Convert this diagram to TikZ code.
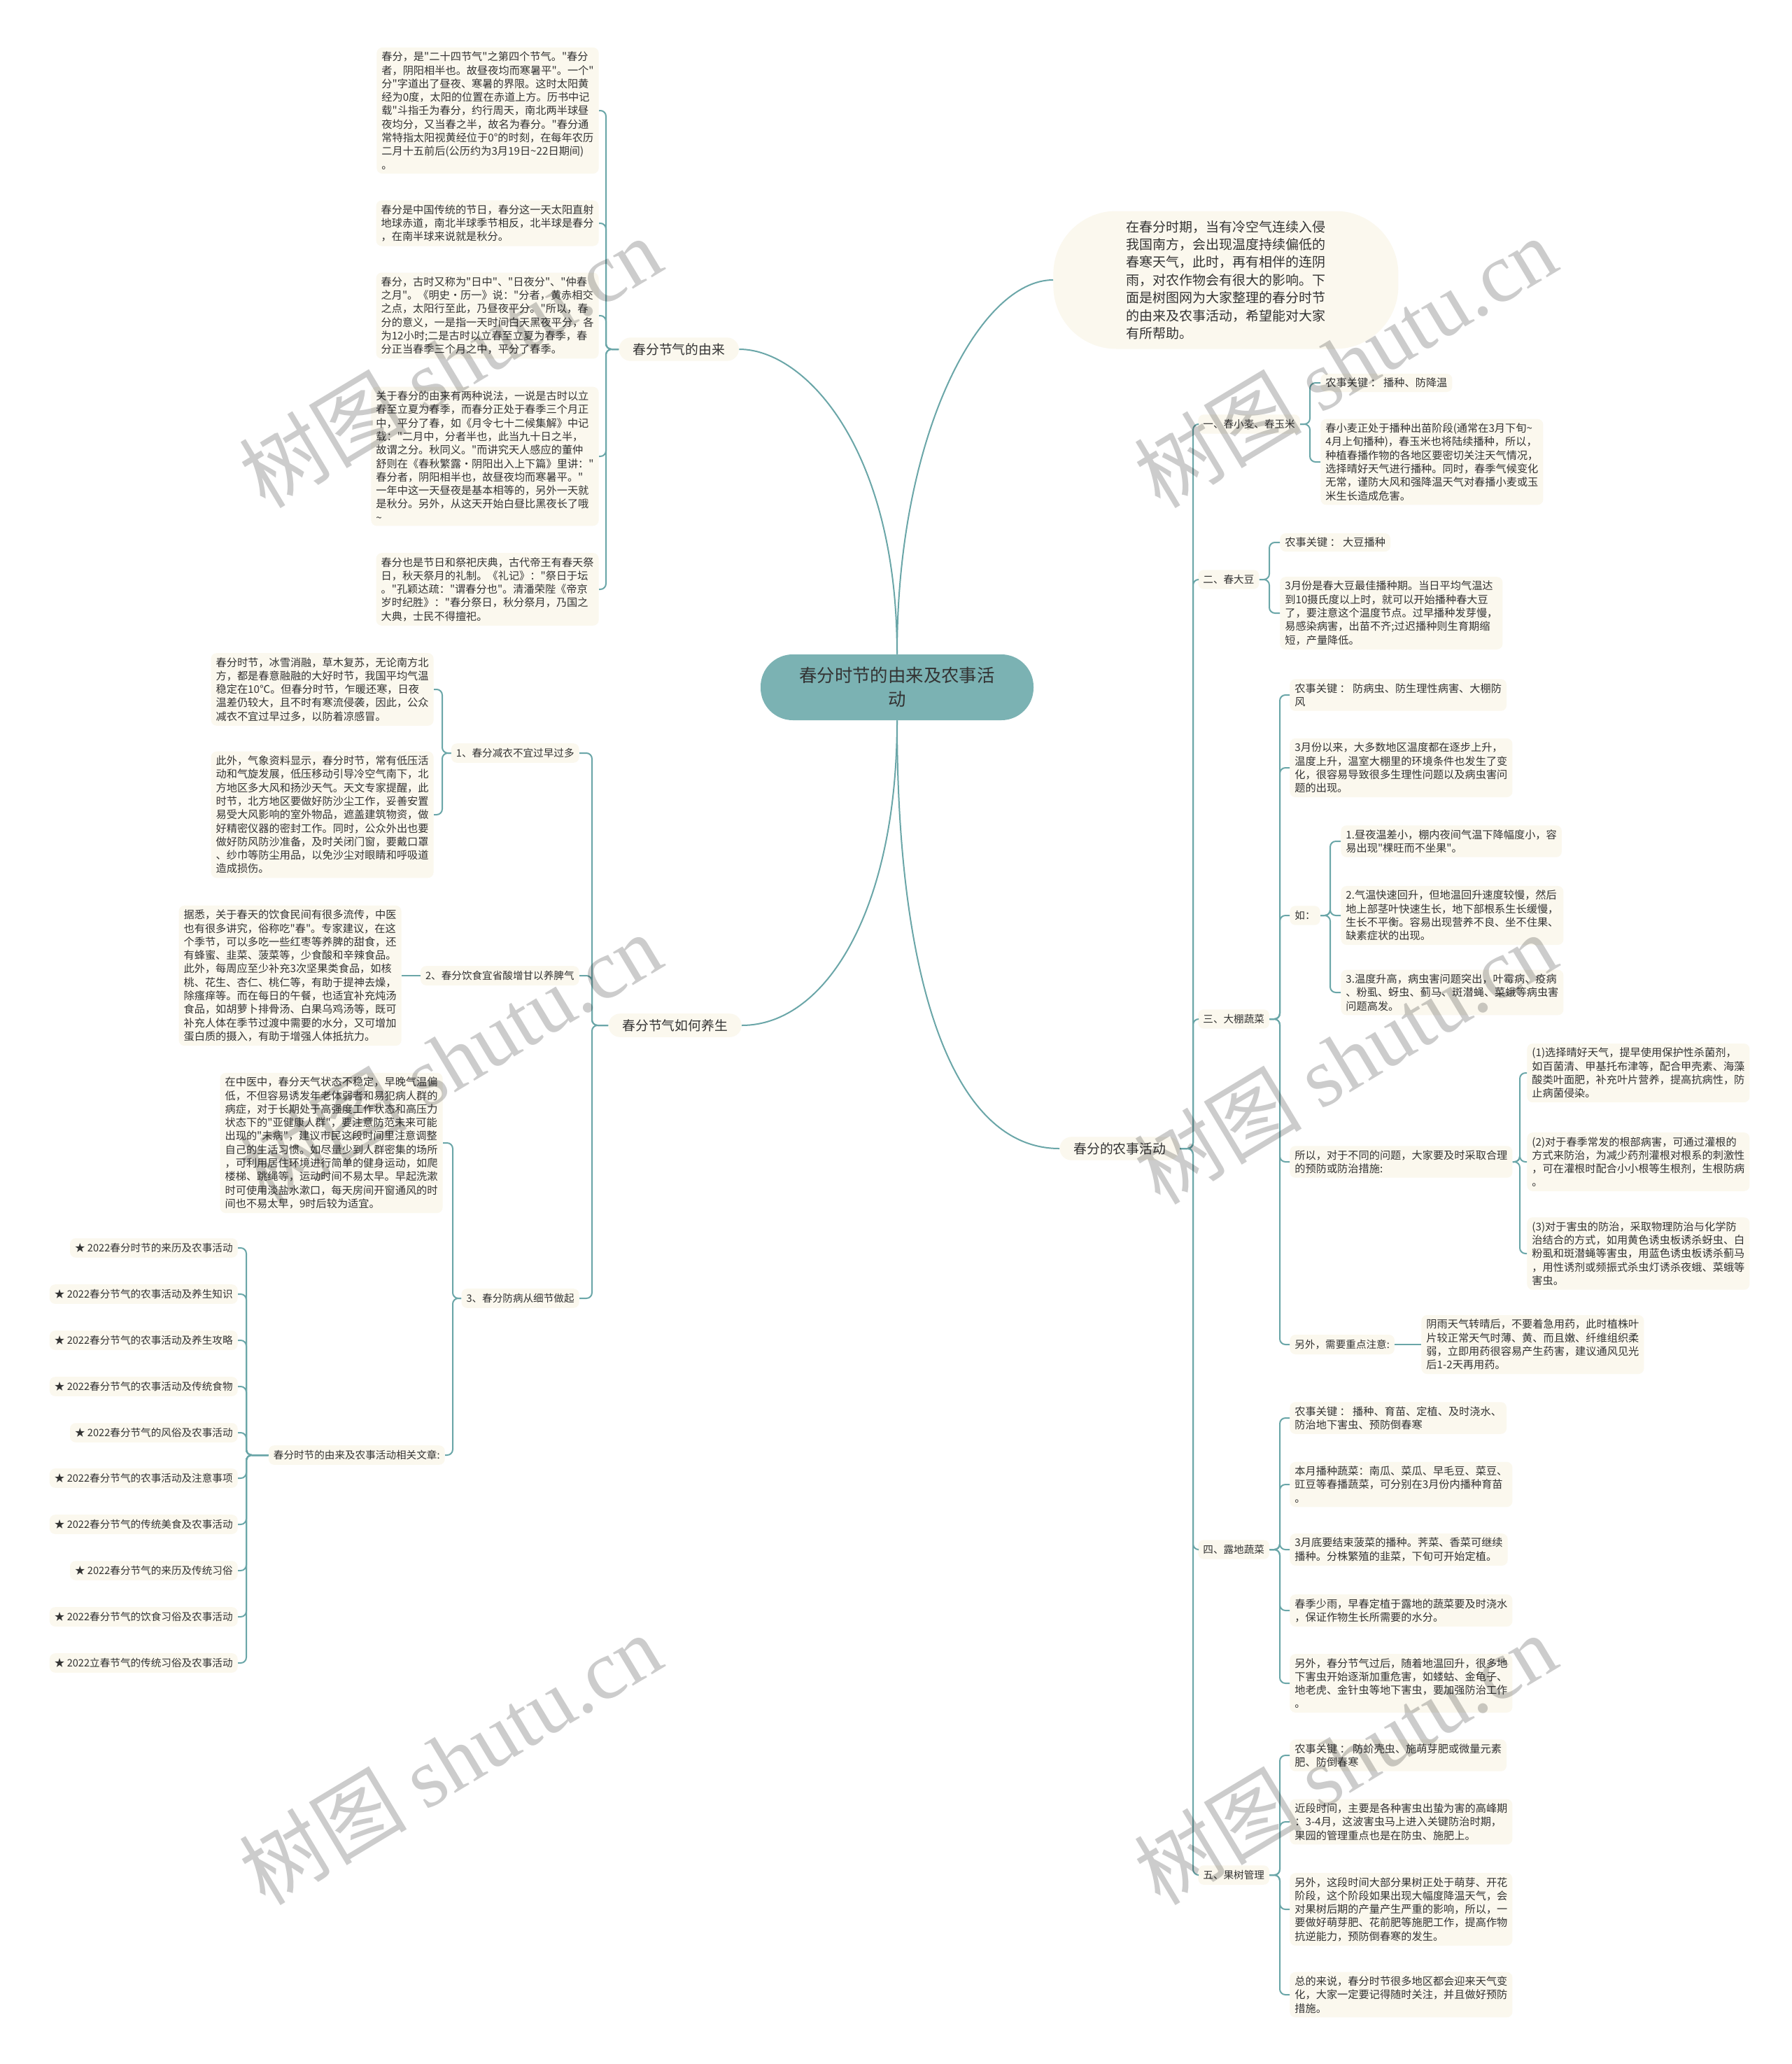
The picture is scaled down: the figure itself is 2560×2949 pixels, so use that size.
\documentclass[tikz,border=0pt]{standalone}
\usepackage{fontspec}
\setmainfont{Noto Sans CJK SC}[Ligatures=TeXOff]
\newfontfamily\wmser{Liberation Serif}
\definecolor{cream}{HTML}{FBF8EE}
\definecolor{linec}{HTML}{6AA6A8}
\definecolor{ctrfill}{HTML}{7BB2B3}
\definecolor{txt}{HTML}{333333}
\newcommand\fsleaf{\fontsize{7.6pt}{9.65pt}\selectfont}
\newcommand\fssub{\fontsize{7.3pt}{9.4pt}\selectfont}
\newcommand\fsmain{\fontsize{9.4pt}{11pt}\selectfont}
\newcommand\fsintro{\fontsize{9.5pt}{12.7pt}\selectfont}
\newcommand\fsctr{\fontsize{12.7pt}{17pt}\selectfont}
\newcommand\cL[3]{\draw[conn] (#1.west) -- (#1.west -| #3) |- (#2.east);}
\newcommand\cR[3]{\draw[conn] (#1.east) -- (#1.east -| #3) |- (#2.west);}
\begin{document}
\begin{tikzpicture}[x=0.5pt,y=-0.5pt,
 leaf/.style={fill=cream, rounded corners=4pt, inner xsep=3.5pt, inner ysep=3pt, align=left, font=\fsleaf, text=txt},
 sub/.style={fill=cream, rounded corners=4pt, inner xsep=3.5pt, inner ysep=3.5pt, font=\fssub, text=txt},
 main/.style={fill=cream, rounded corners=8.5pt, inner xsep=10pt, inner ysep=4pt, font=\fsmain, text=txt},
 intro/.style={fill=cream, rounded corners=45pt, inner xsep=52pt, inner ysep=6pt, minimum height=98.5pt, align=left, font=\fsintro, text=txt},
 ctr/.style={fill=ctrfill, rounded corners=23pt, minimum width=195pt, minimum height=47pt, align=center, font=\fsctr, text=txt},
 conn/.style={draw=linec, line width=1pt, rounded corners=4pt},
 curve/.style={draw=linec, line width=1pt},
 wm/.style={rotate=31, text=black, opacity=0.2, font=\fontsize{60pt}{60pt}\selectfont}]
\fill[white] (0,0) rectangle (2560,2949);
\useasboundingbox (0,0) rectangle (2560,2949);

% ---------- center ----------
\node[ctr] (c) at (1282,982) {春分时节的由来及农事活\\动};

% ---------- branch 1 ----------
\node[main,anchor=west] (yl) at (884,499) {春分节气的由来};
\coordinate (s1) at (866,0);
\node[leaf,anchor=east] (a1) at (856,158) {春分，是"二十四节气"之第四个节气。"春分\\者，阴阳相半也。故昼夜均而寒暑平"。一个"\\分"字道出了昼夜、寒暑的界限。这时太阳黄\\经为0度，太阳的位置在赤道上方。历书中记\\载"斗指壬为春分，约行周天，南北两半球昼\\夜均分，又当春之半，故名为春分。"春分通\\常特指太阳视黄经位于0°的时刻，在每年农历\\二月十五前后(公历约为3月19日\textasciitilde 22日期间)\\。};
\node[leaf,anchor=east] (a2) at (856,319) {春分是中国传统的节日，春分这一天太阳直射\\地球赤道，南北半球季节相反，北半球是春分\\，在南半球来说就是秋分。};
\node[leaf,anchor=east] (a3) at (856,451) {春分，古时又称为"日中"、"日夜分"、"仲春\\之月"。《明史·历一》说："分者，黄赤相交\\之点，太阳行至此，乃昼夜平分。"所以，春\\分的意义，一是指一天时间白天黑夜平分，各\\为12小时;二是古时以立春至立夏为春季，春\\分正当春季三个月之中，平分了春季。};
\node[leaf,anchor=east] (a4) at (856,652) {关于春分的由来有两种说法，一说是古时以立\\春至立夏为春季，而春分正处于春季三个月正\\中，平分了春，如《月令七十二候集解》中记\\载："二月中，分者半也，此当九十日之半，\\故谓之分。秋同义。"而讲究天人感应的董仲\\舒则在《春秋繁露·阴阳出入上下篇》里讲："\\春分者，阴阳相半也，故昼夜均而寒暑平。"\\一年中这一天昼夜是基本相等的，另外一天就\\是秋分。另外，从这天开始白昼比黑夜长了哦\\\textasciitilde};
\node[leaf,anchor=east] (a5) at (856,842) {春分也是节日和祭祀庆典，古代帝王有春天祭\\日，秋天祭月的礼制。《礼记》："祭日于坛\\。"孔颖达疏："谓春分也"。清潘荣陛《帝京\\岁时纪胜》："春分祭日，秋分祭月，乃国之\\大典，士民不得擅祀。};
\cL{yl}{a1}{s1} \cL{yl}{a2}{s1} \cL{yl}{a3}{s1} \cL{yl}{a4}{s1} \cL{yl}{a5}{s1}

% ---------- branch 2 ----------
\node[main,anchor=west] (ys) at (869,1465) {春分节气如何养生};
\coordinate (s2) at (846,0);
\node[sub,anchor=east] (c1) at (828,1076) {1、春分减衣不宜过早过多};
\node[sub,anchor=east] (c2) at (828,1394) {2、春分饮食宜省酸增甘以养脾气};
\node[sub,anchor=east] (c3) at (828,1855) {3、春分防病从细节做起};
\cL{ys}{c1}{s2} \cL{ys}{c2}{s2} \cL{ys}{c3}{s2}

\coordinate (s21) at (632,0);
\node[leaf,anchor=east] (b6) at (620,985) {春分时节，冰雪消融，草木复苏，无论南方北\\方，都是春意融融的大好时节，我国平均气温\\稳定在10℃。但春分时节，乍暖还寒，日夜\\温差仍较大，且不时有寒流侵袭，因此，公众\\减衣不宜过早过多，以防着凉感冒。};
\node[leaf,anchor=east] (b7) at (620,1164) {此外，气象资料显示，春分时节，常有低压活\\动和气旋发展，低压移动引导冷空气南下，北\\方地区多大风和扬沙天气。天文专家提醒，此\\时节，北方地区要做好防沙尘工作，妥善安置\\易受大风影响的室外物品，遮盖建筑物资，做\\好精密仪器的密封工作。同时，公众外出也要\\做好防风防沙准备，及时关闭门窗，要戴口罩\\、纱巾等防尘用品，以免沙尘对眼睛和呼吸道\\造成损伤。};
\cL{c1}{b6}{s21} \cL{c1}{b7}{s21}

\node[leaf,anchor=east] (b8) at (574,1394) {据悉，关于春天的饮食民间有很多流传，中医\\也有很多讲究，俗称吃"春"。专家建议，在这\\个季节，可以多吃一些红枣等养脾的甜食，还\\有蜂蜜、韭菜、菠菜等，少食酸和辛辣食品。\\此外，每周应至少补充3次坚果类食品，如核\\桃、花生、杏仁、桃仁等，有助于提神去燥，\\除瘙痒等。而在每日的午餐，也适宜补充炖汤\\食品，如胡萝卜排骨汤、白果乌鸡汤等，既可\\补充人体在季节过渡中需要的水分，又可增加\\蛋白质的摄入，有助于增强人体抵抗力。};
\draw[conn] (c2.west) -- (b8.east);

\coordinate (s23) at (647,0);
\node[leaf,anchor=east] (b9) at (633,1633) {在中医中，春分天气状态不稳定，早晚气温偏\\低，不但容易诱发年老体弱者和易犯病人群的\\病症，对于长期处于高强度工作状态和高压力\\状态下的"亚健康人群"，要注意防范未来可能\\出现的"未病"，建议市民这段时间里注意调整\\自己的生活习惯。如尽量少到人群密集的场所\\，可利用居住环境进行简单的健身运动，如爬\\楼梯、跳绳等，运动时间不易太早。早起洗漱\\时可使用淡盐水漱口，每天房间开窗通风的时\\间也不易太早，9时后较为适宜。};
\node[sub,anchor=east] (rel) at (636,2079) {春分时节的由来及农事活动相关文章:};
\cL{c3}{b9}{s23} \cL{c3}{rel}{s23}

\coordinate (s24) at (352,0);
\node[sub,anchor=east] (l1) at (340,1783) {★ 2022春分时节的来历及农事活动};
\node[sub,anchor=east] (l2) at (340,1849) {★ 2022春分节气的农事活动及养生知识};
\node[sub,anchor=east] (l3) at (340,1915) {★ 2022春分节气的农事活动及养生攻略};
\node[sub,anchor=east] (l4) at (340,1981) {★ 2022春分节气的农事活动及传统食物};
\node[sub,anchor=east] (l5) at (340,2047) {★ 2022春分节气的风俗及农事活动};
\node[sub,anchor=east] (l6) at (340,2112) {★ 2022春分节气的农事活动及注意事项};
\node[sub,anchor=east] (l7) at (340,2178) {★ 2022春分节气的传统美食及农事活动};
\node[sub,anchor=east] (l8) at (340,2244) {★ 2022春分节气的来历及传统习俗};
\node[sub,anchor=east] (l9) at (340,2310) {★ 2022春分节气的饮食习俗及农事活动};
\node[sub,anchor=east] (l10) at (340,2376) {★ 2022立春节气的传统习俗及农事活动};
\foreach \i in {1,...,10} {\cL{rel}{l\i}{s24}}

% ---------- intro ----------
\node[intro,anchor=west] (intro) at (1505,400) {在春分时期，当有冷空气连续入侵\\我国南方，会出现温度持续偏低的\\春寒天气，此时，再有相伴的连阴\\雨，对农作物会有很大的影响。下\\面是树图网为大家整理的春分时节\\的由来及农事活动，希望能对大家\\有所帮助。};

% ---------- branch 3 ----------
\node[main,anchor=west] (nf) at (1514,1641) {春分的农事活动};
\coordinate (s3) at (1705,0);
\node[sub,anchor=west] (r1) at (1712,606) {一、春小麦、春玉米};
\node[sub,anchor=west] (r2) at (1712,828) {二、春大豆};
\node[sub,anchor=west] (r3) at (1712,1456) {三、大棚蔬菜};
\node[sub,anchor=west] (r4) at (1712,2214) {四、露地蔬菜};
\node[sub,anchor=west] (r5) at (1712,2679) {五、果树管理};
\cR{nf}{r1}{s3} \cR{nf}{r2}{s3} \cR{nf}{r3}{s3} \cR{nf}{r4}{s3} \cR{nf}{r5}{s3}

\coordinate (s31) at (1872,0);
\node[leaf,anchor=west] (k1) at (1887,547) {农事关键 ： 播种、防降温};
\node[leaf,anchor=west] (k2) at (1887,660) {春小麦正处于播种出苗阶段(通常在3月下旬\textasciitilde\\4月上旬播种)，春玉米也将陆续播种，所以，\\种植春播作物的各地区要密切关注天气情况，\\选择晴好天气进行播种。同时，春季气候变化\\无常，谨防大风和强降温天气对春播小麦或玉\\米生长造成危害。};
\cR{r1}{k1}{s31} \cR{r1}{k2}{s31}

\coordinate (s32) at (1814,0);
\node[leaf,anchor=west] (d1) at (1829,775) {农事关键 ： 大豆播种};
\node[leaf,anchor=west] (d2) at (1829,876) {3月份是春大豆最佳播种期。当日平均气温达\\到10摄氏度以上时，就可以开始播种春大豆\\了，要注意这个温度节点。过早播种发芽慢，\\易感染病害，出苗不齐;过迟播种则生育期缩\\短，产量降低。};
\cR{r2}{d1}{s32} \cR{r2}{d2}{s32}

\coordinate (s33) at (1829,0);
\node[leaf,anchor=west] (g1) at (1843,993) {农事关键 ： 防病虫、防生理性病害、大棚防\\风};
\node[leaf,anchor=west] (g2) at (1843,1097) {3月份以来，大多数地区温度都在逐步上升，\\温度上升，温室大棚里的环境条件也发生了变\\化，很容易导致很多生理性问题以及病虫害问\\题的出现。};
\node[sub,anchor=west] (ru) at (1843,1308) {如：};
\node[leaf,anchor=west] (so) at (1843,1660) {所以，对于不同的问题，大家要及时采取合理\\的预防或防治措施:};
\node[sub,anchor=west] (ln) at (1843,1921) {另外，需要重点注意:};
\cR{r3}{g1}{s33} \cR{r3}{g2}{s33} \cR{r3}{ru}{s33} \cR{r3}{so}{s33} \cR{r3}{ln}{s33}

\coordinate (s36) at (1901,0);
\node[leaf,anchor=west] (ga) at (1916,1202) {1.昼夜温差小，棚内夜间气温下降幅度小，容\\易出现"棵旺而不坐果"。};
\node[leaf,anchor=west] (gb) at (1916,1308) {2.气温快速回升，但地温回升速度较慢，然后\\地上部茎叶快速生长，地下部根系生长缓慢，\\生长不平衡。容易出现营养不良、坐不住果、\\缺素症状的出现。};
\node[leaf,anchor=west] (gc) at (1916,1418) {3.温度升高，病虫害问题突出，叶霉病、疫病\\、粉虱、蚜虫、蓟马、斑潜蝇、菜蛾等病虫害\\问题高发。};
\cR{ru}{ga}{s36} \cR{ru}{gb}{s36} \cR{ru}{gc}{s36}

\coordinate (s37) at (2172,0);
\node[leaf,anchor=west] (sa) at (2182,1533) {(1)选择晴好天气，提早使用保护性杀菌剂，\\如百菌清、甲基托布津等，配合甲壳素、海藻\\酸类叶面肥，补充叶片营养，提高抗病性，防\\止病菌侵染。};
\node[leaf,anchor=west] (sb) at (2182,1660) {(2)对于春季常发的根部病害，可通过灌根的\\方式来防治，为减少药剂灌根对根系的刺激性\\，可在灌根时配合小小根等生根剂，生根防病\\。};
\node[leaf,anchor=west] (sc) at (2182,1791) {(3)对于害虫的防治，采取物理防治与化学防\\治结合的方式，如用黄色诱虫板诱杀蚜虫、白\\粉虱和斑潜蝇等害虫，用蓝色诱虫板诱杀蓟马\\，用性诱剂或频振式杀虫灯诱杀夜蛾、菜蛾等\\害虫。};
\cR{so}{sa}{s37} \cR{so}{sb}{s37} \cR{so}{sc}{s37}

\node[leaf,anchor=west] (lb) at (2031,1921) {阴雨天气转晴后，不要着急用药，此时植株叶\\片较正常天气时薄、黄、而且嫩、纤维组织柔\\弱，立即用药很容易产生药害，建议通风见光\\后1-2天再用药。};
\draw[conn] (ln.east) -- (lb.west);

\node[leaf,anchor=west] (h1) at (1843,2026) {农事关键 ： 播种、育苗、定植、及时浇水、\\防治地下害虫、预防倒春寒};
\node[leaf,anchor=west] (h2) at (1843,2121) {本月播种蔬菜：南瓜、菜瓜、早毛豆、菜豆、\\豇豆等春播蔬菜，可分别在3月份内播种育苗\\。};
\node[leaf,anchor=west] (h3) at (1843,2214) {3月底要结束菠菜的播种。荠菜、香菜可继续\\播种。分株繁殖的韭菜，下旬可开始定植。};
\node[leaf,anchor=west] (h4) at (1843,2301) {春季少雨，早春定植于露地的蔬菜要及时浇水\\，保证作物生长所需要的水分。};
\node[leaf,anchor=west] (h5) at (1843,2405) {另外，春分节气过后，随着地温回升，很多地\\下害虫开始逐渐加重危害，如蝼蛄、金龟子、\\地老虎、金针虫等地下害虫，要加强防治工作\\。};
\cR{r4}{h1}{s33} \cR{r4}{h2}{s33} \cR{r4}{h3}{s33} \cR{r4}{h4}{s33} \cR{r4}{h5}{s33}

\node[leaf,anchor=west] (f1) at (1843,2508) {农事关键 ： 防蚧壳虫、施萌芽肥或微量元素\\肥、防倒春寒};
\node[leaf,anchor=west] (f2) at (1843,2603) {近段时间，主要是各种害虫出蛰为害的高峰期\\：3-4月，这波害虫马上进入关键防治时期，\\果园的管理重点也是在防虫、施肥上。};
\node[leaf,anchor=west] (f3) at (1843,2728) {另外，这段时间大部分果树正处于萌芽、开花\\阶段，这个阶段如果出现大幅度降温天气，会\\对果树后期的产量产生严重的影响，所以，一\\要做好萌芽肥、花前肥等施肥工作，提高作物\\抗逆能力，预防倒春寒的发生。};
\node[leaf,anchor=west] (f4) at (1843,2850) {总的来说，春分时节很多地区都会迎来天气变\\化，大家一定要记得随时关注，并且做好预防\\措施。};
\cR{r5}{f1}{s33} \cR{r5}{f2}{s33} \cR{r5}{f3}{s33} \cR{r5}{f4}{s33}

% ---------- center curves ----------
\draw[curve] (c.north) .. controls (1282,640) and (1150,499) .. (yl.east);
\draw[curve] (c.north) .. controls (1282,620) and (1400,400) .. (intro.west);
\draw[curve] (c.south) .. controls (1282,1300) and (1180,1465) .. (ys.east);
\draw[curve] (c.south) .. controls (1282,1400) and (1360,1641) .. (nf.west);

% ---------- watermarks ----------
\foreach \wx/\wy in {643/517,1922/517,643/1512,1922/1512,643/2513,1922/2513}
  {\node[wm] at (\wx,\wy) {树图 {\wmser shutu.cn}};}
\end{tikzpicture}
\end{document}
